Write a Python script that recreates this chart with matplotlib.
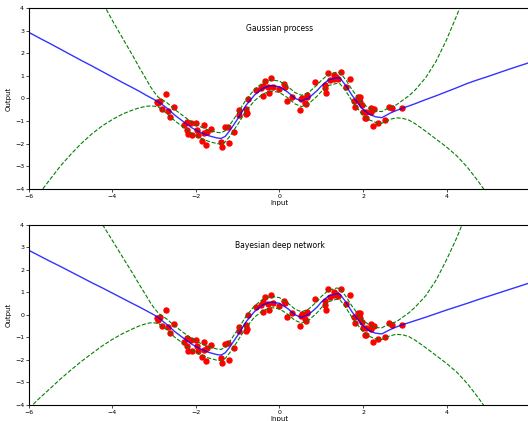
import numpy as np
import matplotlib
matplotlib.use("Agg")
import matplotlib.pyplot as plt

# observed training points (same in both panels)
data_x = [-2.94, -2.90, -2.86, -2.73, -2.81, -2.67, -2.62, -2.52, -2.29, -2.21,
          -2.22, -2.13, -2.18, -2.10, -2.00, -1.98, -1.96, -1.86, -1.82, -1.81,
          -1.77, -1.73, -1.63, -1.39, -1.38, -1.30, -1.24, -1.20, -1.10, -0.97,
          -0.98, -0.81, -0.79, -0.80, -0.75, -0.56, -0.45, -0.39, -0.39, -0.34,
          -0.27, -0.20, -0.24, -0.16, -0.02, 0.10, 0.14, 0.18, 0.29, 0.50,
          0.52, 0.54, 0.62, 0.65, 0.67, 0.63, 0.85, 1.09, 1.10, 1.12,
          1.17, 1.22, 1.30, 1.31, 1.36, 1.39, 1.48, 1.60, 1.70, 1.78,
          1.82, 1.88, 1.91, 1.93, 1.94, 1.98, 2.01, 2.04, 2.06, 2.08,
          2.19, 2.20, 2.24, 2.26, 2.36, 2.53, 2.62, 2.70, 2.94]
data_y = [-0.15, -0.22, -0.10, 0.21, -0.48, -0.54, -0.81, -0.39, -1.19, -1.03,
          -1.40, -1.10, -1.58, -1.62, -1.10, -1.40, -1.62, -1.87, -1.19, -1.55,
          -2.06, -1.47, -1.34, -1.92, -2.14, -1.28, -1.25, -1.99, -1.47, -0.53,
          -0.73, -0.45, -0.63, -0.70, -0.01, 0.36, 0.45, 0.12, 0.57, 0.78,
          0.49, 0.91, 0.23, 0.52, 0.41, 0.63, 0.52, -0.10, 0.08, -0.51,
          -0.04, 0.04, -0.19, 0.08, 0.14, -0.25, 0.73, 0.60, 0.45, 0.23,
          1.15, 0.82, 1.04, 0.88, 0.94, 0.85, 1.17, 0.49, 0.88, -0.10,
          -0.36, 0.08, -0.01, 0.08, -0.14, -0.30, -0.60, -0.88, -0.88, -0.59,
          -0.42, -0.62, -1.22, -0.48, -1.07, -0.96, -0.36, -0.44, -0.44]

# prediction grid
grid_x = [-6.0, -5.75, -5.5, -5.25, -5.0, -4.75, -4.5, -4.25, -4.0, -3.75,
          -3.5, -3.35, -3.2, -3.1, -3.0, -2.9,
          -2.7, -2.5, -2.3, -2.1, -1.9, -1.7, -1.5, -1.4, -1.3, -1.2,
          -1.0, -0.8, -0.6, -0.4, -0.2, 0.0, 0.2, 0.37, 0.53, 0.7,
          0.9, 1.0, 1.17, 1.37, 1.45, 1.6, 1.73, 1.97, 2.15, 2.3,
          2.45, 2.65, 2.8,
          2.95, 3.1, 3.25, 3.5, 3.75, 4.0, 4.25, 4.5, 4.75, 5.0,
          5.25, 5.5, 5.75, 6.0]

# Gaussian process
gp_mean = [2.93, 2.68, 2.44, 2.19, 1.94, 1.69, 1.45, 1.20, 0.95, 0.70,
           0.46, 0.31, 0.15, 0.05, -0.05, -0.15,
           -0.42, -0.75, -1.03, -1.30, -1.50, -1.65, -1.75, -1.77, -1.68, -1.45,
           -0.90, -0.30, 0.15, 0.45, 0.58, 0.52, 0.28, 0.01, -0.11, 0.02,
           0.35, 0.55, 0.82, 0.92, 0.90, 0.55, 0.16, -0.43, -0.70, -0.81,
           -0.85, -0.65, -0.53,
           -0.43, -0.33, -0.23, -0.05, 0.12, 0.30, 0.48, 0.67, 0.83, 0.98,
           1.14, 1.30, 1.45, 1.60]
gp_upper = [12.0, 10.6, 9.3, 8.1, 7.0, 6.1, 5.3, 4.3, 3.45, 2.65,
            1.85, 1.35, 0.88, 0.55, 0.28, 0.05,
            -0.18, -0.50, -0.78, -1.05, -1.25, -1.40, -1.50, -1.52, -1.43, -1.20,
            -0.65, -0.05, 0.40, 0.70, 0.83, 0.77, 0.53, 0.26, 0.14, 0.27,
            0.60, 0.80, 1.07, 1.17, 1.15, 0.80, 0.41, -0.18, -0.45, -0.56,
            -0.58, -0.38, -0.28,
            -0.08, 0.12, 0.38, 0.92, 1.65, 2.60, 3.70, 4.90, 6.30, 7.80,
            9.40, 11.0, 12.6, 14.2]
gp_lower = [-4.85, -4.20, -3.60, -3.00, -2.48, -2.00, -1.58, -1.22, -0.93, -0.68,
            -0.50, -0.41, -0.35, -0.33, -0.34, -0.38,
            -0.66, -1.00, -1.28, -1.55, -1.75, -1.90, -2.00, -2.02, -1.93, -1.70,
            -1.15, -0.55, -0.10, 0.20, 0.33, 0.27, 0.03, -0.24, -0.36, -0.23,
            0.10, 0.30, 0.57, 0.67, 0.65, 0.30, -0.09, -0.68, -0.95, -1.06,
            -1.10, -0.92, -0.86,
            -0.88, -0.96, -1.12, -1.45, -1.80, -2.15, -2.55, -3.05, -3.65, -4.30,
            -5.00, -5.70, -6.40, -7.10]

# Bayesian deep network
bdn_mean = [2.87, 2.63, 2.39, 2.16, 1.92, 1.68, 1.44, 1.21, 0.97, 0.73,
            0.49, 0.35, 0.20, 0.10, 0.00, -0.12,
            -0.42, -0.75, -1.03, -1.30, -1.50, -1.66, -1.76, -1.78, -1.68, -1.45,
            -0.90, -0.30, 0.15, 0.45, 0.58, 0.52, 0.28, 0.01, -0.11, 0.02,
            0.35, 0.57, 0.84, 0.95, 0.92, 0.55, 0.16, -0.43, -0.70, -0.81,
            -0.84, -0.65, -0.53,
            -0.43, -0.34, -0.25, -0.10, 0.06, 0.22, 0.37, 0.52, 0.68, 0.83,
            0.98, 1.13, 1.28, 1.43]
bdn_upper = [12.0, 10.6, 9.3, 8.1, 7.0, 6.0, 5.1, 4.05, 3.30, 2.55,
             1.80, 1.33, 0.88, 0.57, 0.30, 0.08,
             -0.18, -0.50, -0.78, -1.05, -1.25, -1.41, -1.51, -1.53, -1.43, -1.20,
             -0.65, -0.05, 0.40, 0.70, 0.83, 0.77, 0.53, 0.26, 0.14, 0.27,
             0.60, 0.82, 1.09, 1.20, 1.17, 0.80, 0.41, -0.18, -0.45, -0.56,
             -0.57, -0.38, -0.30,
             -0.10, 0.10, 0.35, 0.85, 1.55, 2.45, 3.45, 4.60, 5.90, 7.30,
             8.80, 10.4, 12.0, 13.6]
bdn_lower = [-4.15, -3.70, -3.28, -2.85, -2.45, -2.07, -1.72, -1.38, -1.08, -0.82,
             -0.60, -0.48, -0.39, -0.35, -0.35, -0.38,
             -0.66, -1.00, -1.28, -1.55, -1.75, -1.91, -2.01, -2.03, -1.93, -1.70,
             -1.15, -0.55, -0.10, 0.20, 0.33, 0.27, 0.03, -0.24, -0.36, -0.23,
             0.10, 0.32, 0.59, 0.70, 0.67, 0.30, -0.09, -0.68, -0.95, -1.06,
             -1.09, -0.92, -0.86,
             -0.88, -0.96, -1.12, -1.45, -1.80, -2.15, -2.55, -3.05, -3.65, -4.30,
             -5.00, -5.70, -6.40, -7.10]

panels = [
    ("Gaussian process", gp_mean, gp_upper, gp_lower),
    ("Bayesian deep network", bdn_mean, bdn_upper, bdn_lower),
]

fig = plt.figure(figsize=(5.28, 4.21), dpi=100)
positions = [[0.0549, 0.5518, 0.9489, 0.4285],
             [0.0549, 0.0380, 0.9489, 0.4276]]

for pos, (name, mean, upper, lower) in zip(positions, panels):
    ax = fig.add_axes(pos)
    ax.plot(data_x, data_y, "ro", ms=3.6, mec="r")
    ax.plot(grid_x, mean, "b-", lw=1.0, alpha=0.8)
    ax.plot(grid_x, upper, "g--", lw=0.8)
    ax.plot(grid_x, lower, "g--", lw=0.8)
    ax.text(0, 3.1, name, ha="center", va="center", fontsize=5.5)
    ax.set_xlim(-6, 6)
    ax.set_ylim(-4, 4)
    ax.set_xlabel("Input", fontsize=5, labelpad=1)
    ax.set_ylabel("Output", fontsize=5, labelpad=2)
    ax.tick_params(labelsize=4.5, length=2, width=0.5, pad=1.5)
    for s in ax.spines.values():
        s.set_linewidth(0.8)

fig.savefig("out.png", dpi=100)
